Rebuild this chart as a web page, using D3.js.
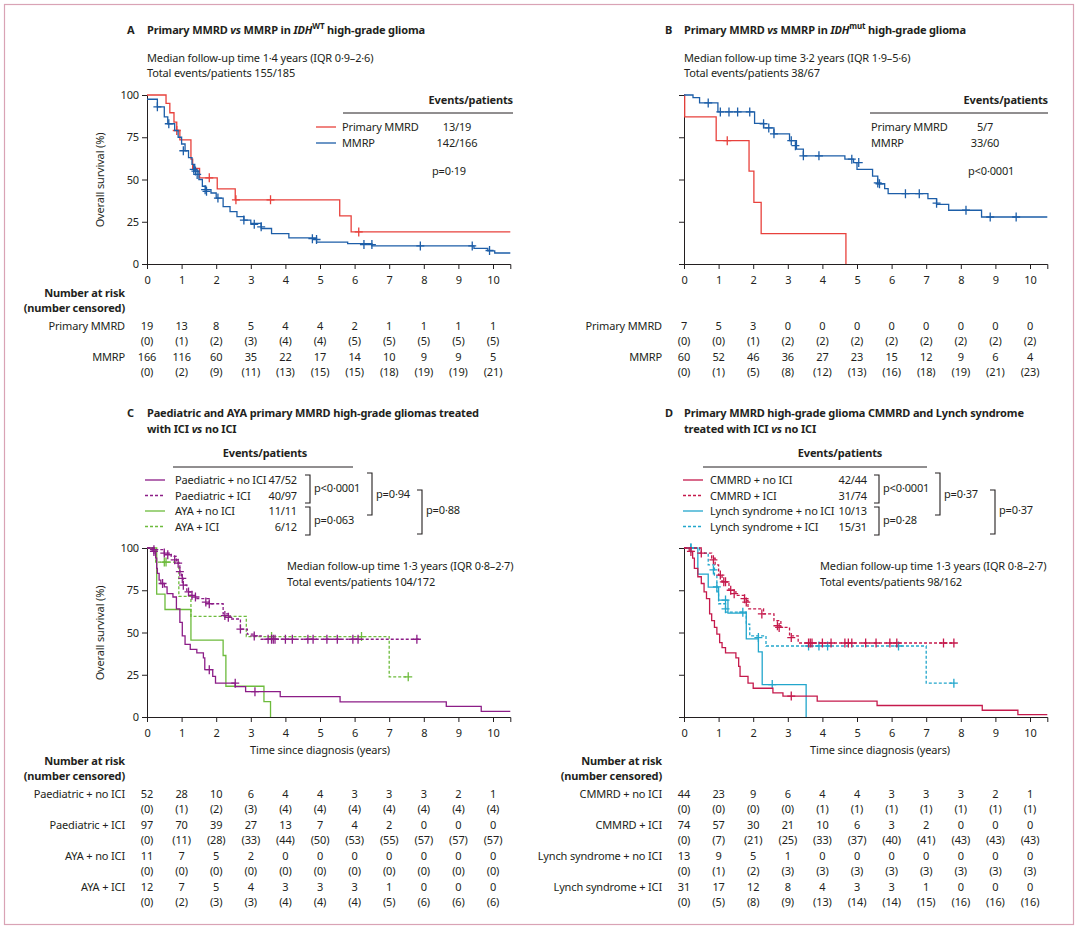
<!DOCTYPE html>
<html><head><meta charset="utf-8">
<script src="https://cdn.jsdelivr.net/npm/d3@7"></script>
<style>body{margin:0;background:#fff}text{font-family:"Noto Sans",sans-serif;font-size:11px;letter-spacing:-0.15px;fill:#231f20}</style>
</head><body><svg id="c" width="1080" height="930"></svg>
<script>
const years = [0,1,2,3,4,5,6,7,8,9,10];

// survival step points [time, survival%], censor marks [time, survival%]
const aMmrd = [[0,100],[0.55,95],[0.66,89.5],[0.78,84],[0.86,79],[0.95,73.5],[1.27,62],[1.32,56.5],[1.52,51],[2.03,44.5],[2.55,38],[5.57,28.5],[5.9,19],[10.5,19]];
const aMmrdC = [[0.86,79],[1.8,51],[2.57,38],[3.57,38],[6.12,19]];
const aMmrp = [[0,97.5],[0.3,93],[0.5,87],[0.6,83],[0.8,79],[0.9,75],[1.0,71],[1.1,67],[1.2,63],[1.3,59],[1.38,55],[1.5,50],[1.6,46],[1.7,44],[1.85,42],[2.0,39],[2.2,34],[2.4,31],[2.6,28],[2.8,26],[3.0,24],[3.3,21],[3.6,18],[4.1,15.5],[4.9,13],[5.8,12],[6.5,10.7],[9.45,9.3],[9.85,7.8],[10.05,6.5],[10.5,6.5]];
const aMmrpC = [[0.3,93],[0.63,83],[1.05,67],[1.35,56],[1.4,55],[1.45,53],[1.68,44],[1.72,43],[2.05,39],[2.8,26],[3.1,23.5],[3.3,22],[4.78,15],[4.9,14.5],[6.27,11.5],[6.5,11.5],[7.9,10.7],[9.4,10.7],[9.9,8]];

const bMmrd = [[0,100],[0.02,87],[0.93,73],[1.88,55],[2.02,36.5],[2.23,18],[4.68,0]];
const bMmrdC = [[1.25,73]];
const bMmrp = [[0,100],[0.26,98.4],[0.45,95.3],[0.98,90],[2.04,83.2],[2.3,80.5],[2.6,77],[3.05,73],[3.25,68],[3.45,64],[4.65,62],[4.9,60],[5.0,56],[5.45,52],[5.6,47.5],[5.8,44.6],[5.9,41.6],[7.05,38.7],[7.3,35.3],[7.65,31.8],[8.6,27.8],[10.5,27.8]];
const bMmrpC = [[0.7,95.3],[1.05,90],[1.3,90],[1.55,90],[1.9,90],[2.3,83],[2.45,80.5],[2.6,77],[3.1,73],[3.22,70],[3.45,64],[3.9,64],[4.85,62],[5.05,60],[5.6,48],[5.65,47.5],[6.4,41.6],[6.8,41.6],[7.3,36],[8.15,31.8],[8.85,27.8],[9.6,27.8]];

const cPaedNo = [[0,100],[0.15,98],[0.25,94],[0.28,88],[0.3,85],[0.35,81],[0.4,79],[0.5,77],[0.58,73],[0.75,71],[0.85,64],[0.95,56],[1.02,48],[1.1,43],[1.25,40],[1.44,38],[1.63,35],[1.67,28],[1.9,24],[1.98,20],[2.55,18],[2.85,15],[3.85,12],[5.58,9],[8.65,6.3],[9.66,3.3],[10.5,3.3]];
const cPaedNoC = [[0.2,98],[0.45,79],[1.8,28],[2.55,20],[3.12,15]];
const cPaedIci = [[0,100],[0.2,99],[0.5,97],[0.7,95],[0.85,91],[0.95,86],[1.0,82],[1.05,78],[1.15,74],[1.25,72],[1.4,70],[1.8,67],[2.2,61],[2.4,58],[2.7,52],[2.9,49],[3.1,48],[3.3,46],[7.85,46]];
const cPaedIciC = [[0.2,99],[0.5,97],[0.6,96],[0.8,93],[0.9,91],[0.95,86],[1.02,82],[1.05,78],[1.2,74],[1.3,72],[1.4,71],[1.7,68],[1.8,67],[2.25,60],[2.35,59],[2.7,52],[3.1,48],[3.5,46],[3.6,46],[3.65,46],[3.7,46],[4.0,46],[4.2,46],[4.65,46],[4.8,46],[5.2,46],[5.5,46],[5.95,46],[6.1,46],[7.8,46]];
const cAyaNo = [[0,100],[0.28,72.7],[0.52,63.6],[1.27,45.5],[2.2,36.4],[2.28,18.2],[3.38,9.1],[3.57,0]];
const cAyaNoC = [];
const cAyaIci = [[0,100],[0.25,91.7],[0.92,71.4],[1.27,59.5],[2.87,47.6],[7.0,23.8],[7.55,23.8]];
const cAyaIciC = [[0.5,91.7],[0.55,91.7],[3.6,47.6],[6.2,47.6],[7.55,23.8]];

const dCmNo = [[0,100],[0.15,98],[0.25,94],[0.3,88],[0.4,83],[0.5,79],[0.58,74],[0.65,70],[0.74,61],[0.8,57],[0.88,53],[0.95,49],[1.03,44],[1.1,41],[1.2,38],[1.5,35],[1.58,30],[1.62,24],[1.85,20],[2.0,17],[2.57,14.3],[2.86,12.4],[3.85,9.4],[5.58,6.8],[8.62,4],[9.65,1.4],[10.5,1.4]];
const dCmNoC = [[0.2,98],[3.1,12.4]];
const dCmIci = [[0,100],[0.5,97],[0.8,94],[0.9,90],[1.0,84],[1.1,80],[1.3,75],[1.5,72],[1.75,69],[1.85,64],[2.3,61],[2.6,57],[2.8,53],[3.05,48],[3.3,43.8],[7.8,43.8]];
const dCmIciC = [[0.5,97],[0.85,93],[1.05,84],[1.15,80],[1.2,80],[1.35,75],[1.45,73],[1.75,70],[1.8,68],[2.25,61],[2.7,54],[2.75,53],[3.1,47],[3.6,43.8],[3.65,43.8],[3.7,43.8],[4.0,43.8],[4.25,43.8],[4.65,43.8],[4.75,43.8],[4.85,43.8],[5.25,43.8],[5.55,43.8],[5.95,43.8],[6.15,43.8],[7.5,43.8],[7.8,43.8]];
const dLyNo = [[0,100],[0.4,84.6],[0.7,76.9],[1.0,69.2],[1.27,61.5],[1.8,46.2],[2.15,38.5],[2.26,19.2],[3.53,0]];
const dLyNoC = [[0.2,100],[1.2,69.2],[2.55,19.2]];
const dLyIci = [[0,100],[0.45,97],[0.7,90],[0.88,84],[0.95,74],[1.0,67],[1.2,62],[1.8,55],[1.9,48],[2.37,42],[7.0,20],[7.8,20]];
const dLyIciC = [[0.2,100],[0.85,87],[0.95,77],[1.2,64],[1.7,62],[2.15,47],[3.6,42],[3.9,42],[4.15,42],[6.2,42],[7.8,20]];

// number at risk / number censored
const aRisk = {"Primary MMRD":[[19,13,8,5,4,4,2,1,1,1,1],[0,1,2,3,4,4,5,5,5,5,5]],
  "MMRP":[[166,116,60,35,22,17,14,10,9,9,5],[0,2,9,11,13,15,15,18,19,19,21]]};
const bRisk = {"Primary MMRD":[[7,5,3,0,0,0,0,0,0,0,0],[0,0,1,2,2,2,2,2,2,2,2]],
  "MMRP":[[60,52,46,36,27,23,15,12,9,6,4],[0,1,5,8,12,13,16,18,19,21,23]]};
const cRisk = {"Paediatric + no ICI":[[52,28,10,6,4,4,3,3,3,2,1],[0,1,2,3,4,4,4,4,4,4,4]],
  "Paediatric + ICI":[[97,70,39,27,13,7,4,2,0,0,0],[0,11,28,33,44,50,53,55,57,57,57]],
  "AYA + no ICI":[[11,7,5,2,0,0,0,0,0,0,0],[0,0,0,0,0,0,0,0,0,0,0]],
  "AYA + ICI":[[12,7,5,4,3,3,3,1,0,0,0],[0,2,3,3,4,4,4,5,6,6,6]]};
const dRisk = {"CMMRD + no ICI":[[44,23,9,6,4,4,3,3,3,2,1],[0,0,0,0,1,1,1,1,1,1,1]],
  "CMMRD + ICI":[[74,57,30,21,10,6,3,2,0,0,0],[0,7,21,25,33,37,40,41,43,43,43]],
  "Lynch syndrome + no ICI":[[13,9,5,1,0,0,0,0,0,0,0],[0,1,2,3,3,3,3,3,3,3,3]],
  "Lynch syndrome + ICI":[[31,17,12,8,4,3,3,1,0,0,0],[0,5,8,9,13,14,14,15,16,16,16]]};

const RED="#e8413c", BLUE="#1d5ea8", PUR="#8c1d87", GRN="#6dbb3c", CRIM="#c51a4c", CYAN="#22a6cc";

const svg = d3.select("#c");
svg.append("rect").attr("x",4.5).attr("y",4.5).attr("width",1069).attr("height",920)
  .attr("fill","none").attr("stroke","#d9a3b5").attr("stroke-width",1.2);

function txt(x,y,s,opt={}){
  const t = svg.append("text").attr("x",x).attr("y",y).text(s);
  if(opt.anchor) t.attr("text-anchor",opt.anchor);
  if(opt.bold) t.attr("font-weight","bold");
  return t;
}

function panel(p){
  const x = d3.scaleLinear().domain([0,10.5]).range([p.x0, p.x0+10.5*34.6]);
  const y = d3.scaleLinear().domain([0,100]).range([p.top+169, p.top]);
  const g = svg.append("g");
  const ya = g.append("g").attr("transform",`translate(${p.x0},0)`)
    .call(d3.axisLeft(y).tickValues([0,25,50,75,100]).tickSize(5).tickFormat(p.yLabels?d3.format("d"):""));
  const xa = g.append("g").attr("transform",`translate(0,${p.top+169})`)
    .call(d3.axisBottom(x).tickValues(years).tickSize(5).tickFormat(d3.format("d")));
  [ya,xa].forEach(a=>{a.select(".domain").attr("stroke","#231f20");a.selectAll("line").attr("stroke","#231f20");
    a.selectAll("text").style("font-family","Noto Sans").style("font-size","11px").attr("fill","#231f20");});
  xa.selectAll("text").attr("dy","1.1em");
  if(p.yLabels){
    g.append("text").attr("transform",`translate(${p.x0-43},${p.top+85}) rotate(-90)`)
      .attr("text-anchor","middle").text("Overall survival (%)");
  }
  const line = d3.line().x(d=>x(d[0])).y(d=>y(d[1])).curve(d3.curveStepAfter);
  p.series.forEach(s=>{
    g.append("path").datum(s.pts).attr("d",line).attr("fill","none").attr("stroke",s.col)
      .attr("stroke-width",1.3).attr("stroke-dasharray",s.dash?"3,2":null);
    g.selectAll(null).data(s.cens).enter().append("path")
      .attr("d",d=>`M${x(d[0])-4},${y(d[1])}h8M${x(d[0])},${y(d[1])-4.5}v9`)
      .attr("stroke",s.col).attr("stroke-width",1.3);
  });
  // number at risk table
  if(p.header){
    txt(p.x0-22,p.riskTop,"Number at risk",{anchor:"end",bold:true});
    txt(p.x0-22,p.riskTop+15,"(number censored)",{anchor:"end",bold:true});
  }
  Object.entries(p.risk).forEach(([name,[n,c]],i)=>{
    const yy = p.riskTop+33+i*p.rowStep;
    txt(p.x0-22,yy,name,{anchor:"end"});
    n.forEach((v,j)=>txt(x(j),yy,v,{anchor:"middle"}));
    c.forEach((v,j)=>txt(x(j),yy+15,`(${v})`,{anchor:"middle"}));
  });
  return {x,y};
}

// Panel A
txt(127,34,"A",{bold:true});
const tA = txt(147,34,"Primary MMRD ",{bold:true});
tA.append("tspan").attr("font-style","italic").text("vs");
tA.append("tspan").text(" MMRP in ");
tA.append("tspan").attr("font-style","italic").text("IDH");
tA.append("tspan").attr("font-size","8px").attr("dy",-5).text("WT");
tA.append("tspan").attr("dy",5).text(" high-grade glioma");
txt(147,62,"Median follow-up time 1·4 years (IQR 0·9–2·6)");
txt(147,77,"Total events/patients 155/185");
panel({x0:147,top:95,yLabels:true,header:true,risk:aRisk,riskTop:297,rowStep:31,series:[
  {pts:aMmrd,cens:aMmrdC,col:RED},{pts:aMmrp,cens:aMmrpC,col:BLUE}]});
txt(513,104,"Events/patients",{anchor:"end",bold:true});
svg.append("line").attr("x1",343).attr("x2",513).attr("y1",113).attr("y2",113).attr("stroke","#231f20");
[["Primary MMRD","13/19",RED],["MMRP","142/166",BLUE]].forEach((r,i)=>{
  const yy=131+i*16;
  svg.append("line").attr("x1",316).attr("x2",336).attr("y1",yy-4).attr("y2",yy-4).attr("stroke",r[2]).attr("stroke-width",1.3);
  txt(342,yy,r[0]); txt(457,yy,r[1],{anchor:"middle"});
});
txt(432,175,"p=0·19");

// Panel B
txt(665,34,"B",{bold:true});
const tB = txt(684,34,"Primary MMRD ",{bold:true});
tB.append("tspan").attr("font-style","italic").text("vs");
tB.append("tspan").text(" MMRP in ");
tB.append("tspan").attr("font-style","italic").text("IDH");
tB.append("tspan").attr("font-size","8px").attr("dy",-5).text("mut");
tB.append("tspan").attr("dy",5).text(" high-grade glioma");
txt(684,62,"Median follow-up time 3·2 years (IQR 1·9–5·6)");
txt(684,77,"Total events/patients 38/67");
panel({x0:684,top:95,yLabels:false,header:false,risk:bRisk,riskTop:297,rowStep:31,series:[
  {pts:bMmrd,cens:bMmrdC,col:RED},{pts:bMmrp,cens:bMmrpC,col:BLUE}]});
txt(1048,104,"Events/patients",{anchor:"end",bold:true});
svg.append("line").attr("x1",870).attr("x2",1048).attr("y1",113).attr("y2",113).attr("stroke","#231f20");
[["Primary MMRD","5/7"],["MMRP","33/60"]].forEach((r,i)=>{
  const yy=131+i*16; txt(871,yy,r[0]); txt(985,yy,r[1],{anchor:"middle"});
});
txt(968,175,"p<0·0001");

// legend with brackets
function bracket(x,y1,y2){
  svg.append("path").attr("d",`M${x-5},${y1}H${x}V${y2}H${x-5}`).attr("fill","none").attr("stroke","#231f20").attr("stroke-width",1.1);
}
function legendCD(o){
  txt(o.hdrX,457,"Events/patients",{anchor:"middle",bold:true});
  svg.append("line").attr("x1",o.ulx1).attr("x2",o.ulx2).attr("y1",467).attr("y2",467).attr("stroke","#231f20");
  o.rows.forEach((r,i)=>{
    const yy=484+i*15.5;
    svg.append("line").attr("x1",o.sw).attr("x2",o.sw+20).attr("y1",yy-4).attr("y2",yy-4)
      .attr("stroke",r[2]).attr("stroke-width",1.3).attr("stroke-dasharray",r[3]?"3,2":null);
    txt(o.sw+o.gap,yy,r[0]); txt(o.valX,yy,r[1],{anchor:"end"});
  });
  bracket(o.b1,475,503); txt(o.b1+4,492,o.p[0]);
  bracket(o.b1,507,535); txt(o.b1+4,524,o.p[1]);
  bracket(o.b2,473,515); txt(o.b2+4,498,o.p[2]);
  bracket(o.b3,490,534); txt(o.b3+4,514,o.p[3]);
}

// Panel C
txt(127,417,"C",{bold:true});
txt(147,417,"Paediatric and AYA primary MMRD high-grade gliomas treated",{bold:true});
const tC = txt(147,433,"with ICI ",{bold:true});
tC.append("tspan").attr("font-style","italic").text("vs"); tC.append("tspan").text(" no ICI");
legendCD({hdrX:265,ulx1:173,ulx2:353,sw:145,gap:30,valX:297,b1:310,b2:372,b3:422,
  p:["p<0·0001","p=0·063","p=0·94","p=0·88"],
  rows:[["Paediatric + no ICI","47/52",PUR,false],["Paediatric + ICI","40/97",PUR,true],["AYA + no ICI","11/11",GRN,false],["AYA + ICI","6/12",GRN,true]]});
panel({x0:147,top:548,yLabels:true,header:true,risk:cRisk,riskTop:765,rowStep:31,series:[
  {pts:cAyaNo,cens:cAyaNoC,col:GRN},{pts:cAyaIci,cens:cAyaIciC,col:GRN,dash:true},
  {pts:cPaedNo,cens:cPaedNoC,col:PUR},{pts:cPaedIci,cens:cPaedIciC,col:PUR,dash:true}]});
txt(287,570,"Median follow-up time 1·3 years (IQR 0·8–2·7)");
txt(287,586,"Total events/patients 104/172");
txt(320,754,"Time since diagnosis (years)",{anchor:"middle"});

// Panel D
txt(665,417,"D",{bold:true});
txt(684,417,"Primary MMRD high-grade glioma CMMRD and Lynch syndrome",{bold:true});
const tD = txt(684,433,"treated with ICI ",{bold:true});
tD.append("tspan").attr("font-style","italic").text("vs"); tD.append("tspan").text(" no ICI");
legendCD({hdrX:840,ulx1:703,ulx2:927,sw:683,gap:27,valX:867,b1:879,b2:940,b3:995,
  p:["p<0·0001","p=0·28","p=0·37","p=0·37"],
  rows:[["CMMRD + no ICI","42/44",CRIM,false],["CMMRD + ICI","31/74",CRIM,true],["Lynch syndrome + no ICI","10/13",CYAN,false],["Lynch syndrome + ICI","15/31",CYAN,true]]});
panel({x0:684,top:548,yLabels:false,header:true,risk:dRisk,riskTop:765,rowStep:31,series:[
  {pts:dLyNo,cens:dLyNoC,col:CYAN},{pts:dLyIci,cens:dLyIciC,col:CYAN,dash:true},
  {pts:dCmNo,cens:dCmNoC,col:CRIM},{pts:dCmIci,cens:dCmIciC,col:CRIM,dash:true}]});
txt(820,570,"Median follow-up time 1·3 years (IQR 0·8–2·7)");
txt(820,586,"Total events/patients 98/162");
txt(880,754,"Time since diagnosis (years)",{anchor:"middle"});
</script></body></html>
